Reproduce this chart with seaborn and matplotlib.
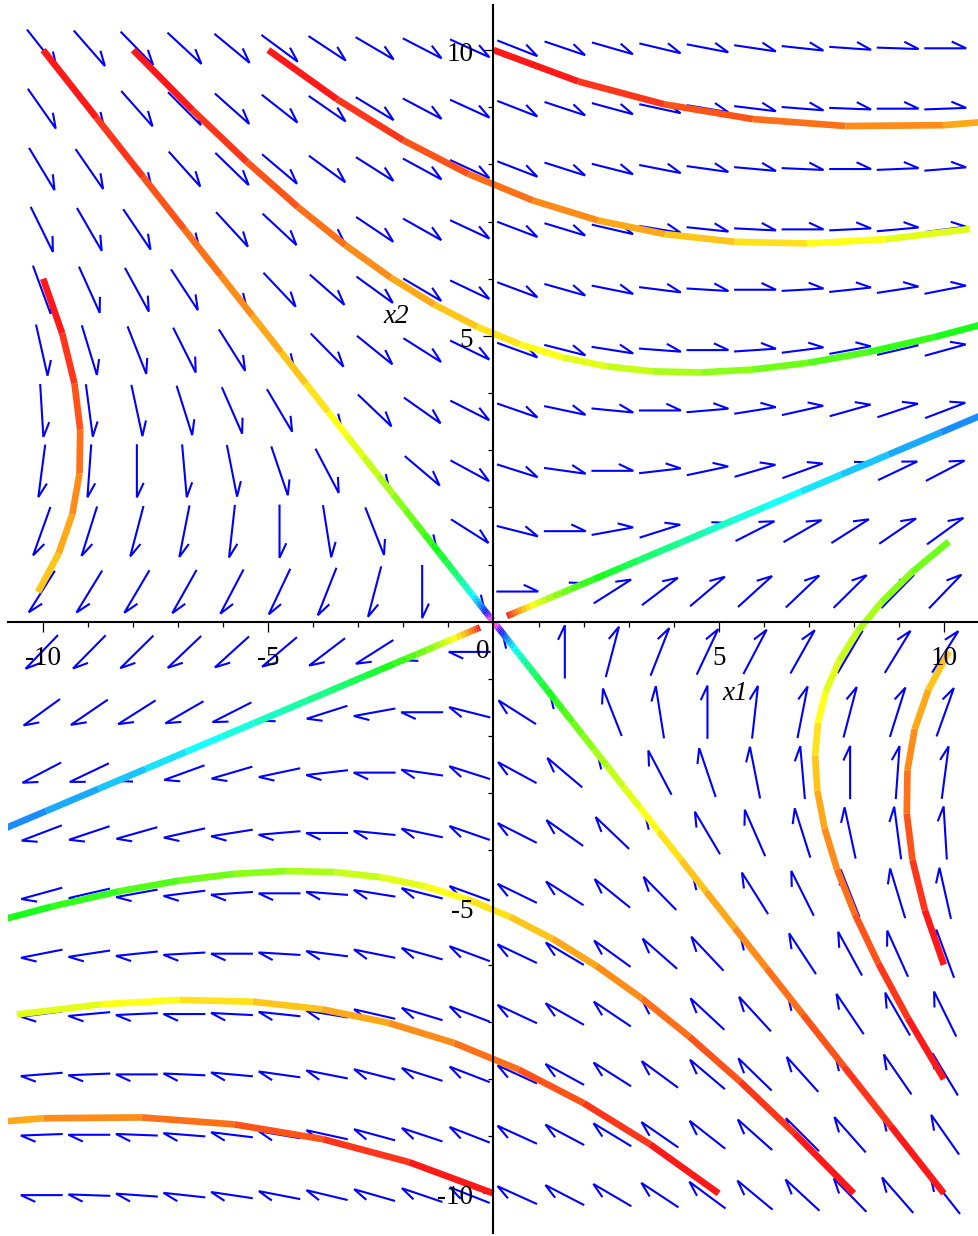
import numpy as np
import matplotlib
matplotlib.use("Agg")
import matplotlib.pyplot as plt
import seaborn as sns
import colorsys
from matplotlib.collections import LineCollection

# ---- linear system  x' = A x ----
a11, a12 = 1.0, 3.0
a21, a22 = 1.0, -1.0

# ---- initial conditions of the drawn trajectories ----
ic_x1 = [-10, 10, -8, 8, -5, 5, 0, 0, -10, 10, -10, 10, 0.3, -0.3]
ic_x2 = [10, -10, 10, -10, 10, -10, 10, -10, 8.5, -8, 6, -6, 0.1, -0.1]
t_end = 3.0
t_step = 1.0 / 16.0
obs_range = 10.0          # integration stops once a point leaves this box
hue_per_time = 1.0 / 3.0  # colour of a trajectory segment follows time

# ---- direction-field grid ----
grid_lo, grid_hi, grid_n = -10.03, 10.03, 20
arrow_len = 0.93          # arrow length in data units

# ---- axes / labels ----
x_lim = (-10.78, 10.78)
y_lim = (-10.745, 10.875)
x_tick_labels = [-10, -5, 5, 10]
y_tick_labels = [-10, -5, 5, 10]

sns.set_theme(style="white")
plt.rcParams["font.family"] = ["Liberation Serif", "DejaVu Serif"]

W, H = 979, 1236
fig = plt.figure(figsize=(W / 100, H / 100), dpi=100)
left_px = 8
ax = fig.add_axes([left_px / W, 0, (W - left_px) / W, 1])
ax.set_xlim(*x_lim)
ax.set_ylim(*y_lim)
ax.set_facecolor("white")
fig.patch.set_facecolor("white")

sx = (W - left_px) / (x_lim[1] - x_lim[0])   # px per unit
sy = H / (y_lim[1] - y_lim[0])

A = np.array([[a11, a12], [a21, a22]])
evals, evecs = np.linalg.eig(A)
evecs_inv = np.linalg.inv(evecs)

# ---- direction field (Maple-style harpoon arrows) ----
g = np.linspace(grid_lo, grid_hi, grid_n)
GX, GY = np.meshgrid(g, g)
U = a11 * GX + a12 * GY
V = a21 * GX + a22 * GY
N = np.hypot(U, V)
DU, DV = U / N, V / N
segs = []
theta = np.deg2rad(25)
barb_px = 16.0
for cx, cy, du, dv in zip(GX.ravel(), GY.ravel(), DU.ravel(), DV.ravel()):
    tail = (cx - du * arrow_len / 2, cy - dv * arrow_len / 2)
    tip = (cx + du * arrow_len / 2, cy + dv * arrow_len / 2)
    fx, fy = du * sx, dv * sy
    nn = np.hypot(fx, fy)
    bx, by = -fx / nn, -fy / nn
    phi = -theta
    rx = bx * np.cos(phi) - by * np.sin(phi)
    ry = bx * np.sin(phi) + by * np.cos(phi)
    barb = (tip[0] + rx * barb_px / sx, tip[1] + ry * barb_px / sy)
    segs.append([tail, tip, barb])
ax.add_collection(LineCollection(segs, colors=(0, 0, 1), linewidths=1.5,
                                 capstyle="butt", joinstyle="miter", zorder=2))

# ---- trajectories ----
ts = np.arange(0, t_end + t_step / 2, t_step)
for x0, y0 in zip(ic_x1, ic_x2):
    c = evecs_inv @ np.array([x0, y0], dtype=float)
    pts = np.real(np.array([evecs @ (c * np.exp(evals * t)) for t in ts]))
    keep = len(ts)
    for i in range(len(ts)):
        if abs(pts[i, 0]) > obs_range or abs(pts[i, 1]) > obs_range:
            keep = i + 1
            break
    pts = pts[:keep]
    tt = ts[:keep]
    lines = [[pts[i], pts[i + 1]] for i in range(len(pts) - 1)]
    cols = [colorsys.hsv_to_rgb(min(hue_per_time * tt[i], 0.97), 0.9, 1.0)
            for i in range(len(pts) - 1)]
    ax.add_collection(LineCollection(lines, colors=cols, linewidths=4.8,
                                     capstyle="butt", zorder=3))

# ---- axes through the origin ----
for s in ["top", "right"]:
    ax.spines[s].set_visible(False)
ax.spines["left"].set_position(("data", 0))
ax.spines["bottom"].set_position(("data", 0))
ax.spines["left"].set_bounds(-10.69, 10.79)
ax.spines["bottom"].set_bounds(-10.78, 10.78)
for s in ["left", "bottom"]:
    ax.spines[s].set_linewidth(1.5)
    ax.spines[s].set_color("black")
    ax.spines[s].set_zorder(5)

ax.set_xticks([-10, -5, 5, 10])
ax.set_yticks([-10, -5, 5, 10])
ax.set_xticks(np.arange(-10, 11, 1), minor=True)
ax.set_yticks(np.arange(-10, 11, 1), minor=True)
ax.tick_params(which="major", direction="out", length=7.2, width=0.9,
               color="black", labelbottom=False, labelleft=False,
               bottom=True, left=True)
ax.tick_params(which="minor", direction="out", length=3.6, width=0.9,
               color="black", bottom=True, left=True)
ax.grid(False)

fs = 19.5
for v in x_tick_labels:
    ax.text(v, -0.757, f"{v}", ha="center", va="baseline", fontsize=fs,
            color="black", zorder=6)
ax.text(-0.229, -0.635, "0", ha="center", va="baseline", fontsize=fs,
        color="black", zorder=6)
for v in y_tick_labels:
    ax.text(-0.45, v - 0.19, f"{v}", ha="right", va="baseline", fontsize=fs,
            color="black", zorder=6)

ax.text(5.37, -1.37, "x1", ha="center", va="baseline", fontsize=fs,
        style="italic", color="black", zorder=6)
ax.text(-2.16, 5.22, "x2", ha="center", va="baseline", fontsize=fs,
        style="italic", color="black", zorder=6)

fig.savefig("out.png", dpi=100, facecolor="white")
